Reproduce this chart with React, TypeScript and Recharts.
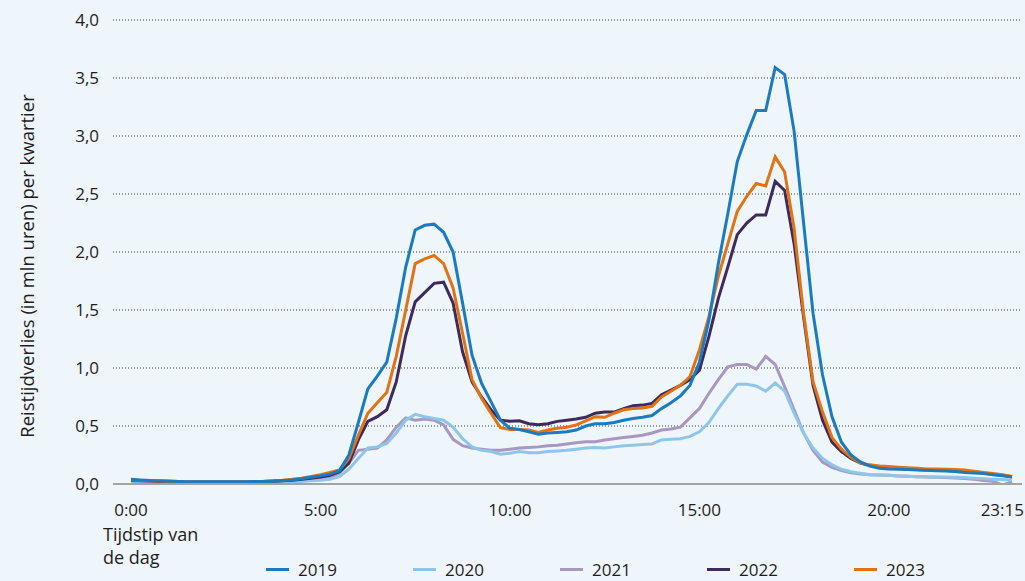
import React from "react";
import { LineChart, Line, XAxis, YAxis, CartesianGrid } from "recharts";

// kwartieren 0:00 .. 23:15
const TIMES: string[] = Array.from({ length: 94 }, (_, i) =>
  `${Math.floor(i / 4)}:${String((i % 4) * 15).padStart(2, "0")}`
);
const X_TICKS = ["0:00", "5:00", "10:00", "15:00", "20:00", "23:15"];
const Y_TICKS = [0, 0.5, 1, 1.5, 2, 2.5, 3, 3.5, 4];

const Y2019 = [
  0.04, 0.035, 0.03, 0.027, 0.025, 0.022, 0.02, 0.02, 0.02, 0.02,
  0.02, 0.02, 0.02, 0.021, 0.022, 0.025, 0.03, 0.035, 0.045, 0.058,
  0.07, 0.085, 0.115, 0.25, 0.53, 0.82, 0.93, 1.05, 1.43, 1.87,
  2.19, 2.23, 2.24, 2.17, 2.0, 1.56, 1.11, 0.87, 0.71, 0.55,
  0.48, 0.47, 0.45, 0.43, 0.44, 0.445, 0.45, 0.465, 0.5, 0.52,
  0.52, 0.53, 0.55, 0.565, 0.575, 0.59, 0.65, 0.7, 0.76, 0.85,
  1.05, 1.41, 1.9, 2.33, 2.78, 3.01, 3.22, 3.22, 3.59, 3.53,
  3.04, 2.25, 1.47, 0.94, 0.58, 0.36, 0.25, 0.19, 0.155, 0.135,
  0.13, 0.128, 0.125, 0.12, 0.118, 0.115, 0.112, 0.108, 0.1, 0.095,
  0.09, 0.08, 0.072, 0.06,
];
const Y2020 = [
  0.02, 0.018, 0.016, 0.015, 0.014, 0.013, 0.012, 0.012, 0.012, 0.012,
  0.012, 0.012, 0.012, 0.013, 0.014, 0.015, 0.018, 0.02, 0.022, 0.027,
  0.033, 0.04, 0.063, 0.127, 0.22, 0.31, 0.32, 0.35, 0.44, 0.55,
  0.6, 0.58, 0.565, 0.55, 0.49, 0.39, 0.32, 0.29, 0.28, 0.256,
  0.265, 0.28, 0.27, 0.27, 0.28, 0.285, 0.29, 0.3, 0.31, 0.315,
  0.31, 0.32, 0.33, 0.335, 0.34, 0.345, 0.38, 0.385, 0.39, 0.41,
  0.45, 0.53, 0.65, 0.76, 0.86, 0.86, 0.845, 0.8, 0.87, 0.8,
  0.61, 0.44, 0.31, 0.22, 0.165, 0.127, 0.106, 0.092, 0.08, 0.078,
  0.075, 0.07, 0.066, 0.063, 0.062, 0.06, 0.06, 0.058, 0.055, 0.05,
  0.046, 0.042, 0.038, 0.035,
];
const Y2021 = [
  0.025, 0.022, 0.02, 0.018, 0.016, 0.015, 0.014, 0.014, 0.014, 0.014,
  0.014, 0.014, 0.014, 0.015, 0.016, 0.018, 0.02, 0.025, 0.03, 0.035,
  0.045, 0.055, 0.092, 0.18, 0.29, 0.3, 0.31, 0.38, 0.49, 0.57,
  0.55, 0.56, 0.55, 0.51, 0.385, 0.33, 0.31, 0.3, 0.29, 0.29,
  0.3, 0.31, 0.315, 0.32, 0.33, 0.335, 0.345, 0.355, 0.365, 0.365,
  0.38, 0.39, 0.4, 0.41, 0.42, 0.44, 0.465, 0.475, 0.49, 0.57,
  0.65, 0.78, 0.9, 1.01, 1.03, 1.03, 0.99, 1.1, 1.03, 0.84,
  0.64, 0.44, 0.29, 0.19, 0.144, 0.115, 0.097, 0.086, 0.08, 0.078,
  0.075, 0.07, 0.066, 0.063, 0.06, 0.058, 0.055, 0.052, 0.048, 0.04,
  0.03, 0.023, -0.01, 0.02,
];
const Y2022 = [
  0.03, 0.027, 0.025, 0.022, 0.02, 0.02, 0.018, 0.018, 0.018, 0.018,
  0.018, 0.018, 0.018, 0.02, 0.02, 0.023, 0.027, 0.033, 0.04, 0.05,
  0.06, 0.075, 0.106, 0.18, 0.38, 0.54, 0.58, 0.64, 0.88, 1.28,
  1.57, 1.65, 1.73, 1.74, 1.56, 1.14, 0.88, 0.75, 0.64, 0.55,
  0.54, 0.545, 0.52, 0.51, 0.52, 0.54, 0.55, 0.56, 0.575, 0.61,
  0.62, 0.62, 0.65, 0.675, 0.68, 0.695, 0.77, 0.81, 0.85, 0.9,
  0.98, 1.27, 1.6, 1.87, 2.15, 2.25, 2.32, 2.32, 2.61, 2.53,
  2.07, 1.44, 0.85, 0.55, 0.36, 0.28, 0.22, 0.18, 0.16, 0.145,
  0.14, 0.135, 0.13, 0.125, 0.12, 0.12, 0.117, 0.115, 0.11, 0.105,
  0.095, 0.085, 0.075, 0.062,
];
const Y2023 = [
  0.035, 0.03, 0.028, 0.025, 0.023, 0.021, 0.02, 0.02, 0.02, 0.02,
  0.02, 0.02, 0.02, 0.021, 0.023, 0.027, 0.032, 0.04, 0.05, 0.065,
  0.08, 0.1, 0.12, 0.22, 0.42, 0.61, 0.7, 0.79, 1.1, 1.5,
  1.9, 1.94, 1.97, 1.9, 1.69, 1.3, 0.9, 0.74, 0.61, 0.485,
  0.47, 0.47, 0.465, 0.445, 0.465, 0.48, 0.49, 0.51, 0.545, 0.58,
  0.575, 0.61, 0.64, 0.65, 0.655, 0.67, 0.75, 0.8, 0.85, 0.925,
  1.155, 1.44, 1.79, 2.07, 2.35, 2.48, 2.59, 2.57, 2.82, 2.69,
  2.2, 1.47, 0.88, 0.62, 0.4, 0.3, 0.23, 0.18, 0.165, 0.155,
  0.15, 0.145, 0.14, 0.135, 0.13, 0.13, 0.127, 0.125, 0.12, 0.11,
  0.1, 0.09, 0.08, 0.065,
];

const SERIES = [
  { key: "2019", values: Y2019, color: "#1b7bc0" },
  { key: "2020", values: Y2020, color: "#8ec6ea" },
  { key: "2021", values: Y2021, color: "#a897be" },
  { key: "2022", values: Y2022, color: "#3e2a5d" },
  { key: "2023", values: Y2023, color: "#e27312" },
];
// tekenvolgorde: 2019 bovenop
const DRAW_ORDER = ["2021", "2020", "2022", "2023", "2019"];

const data = TIMES.map((t, i) => {
  const row: Record<string, string | number> = { t };
  SERIES.forEach((s) => (row[s.key] = s.values[i]));
  return row;
});

const FONT = "'Open Sans', sans-serif";
const TEXT = "#1e1e1e";
const LAST = X_TICKS[X_TICKS.length - 1];

const fmt = (v: number) => v.toFixed(1).replace(".", ",");

// laatste label rechts uitlijnen zodat het binnen beeld blijft
const TimeTick = ({ x, y, payload }: { x?: number; y?: number; payload?: { value: string } }) => {
  const isLast = payload?.value === LAST;
  return (
    <text
      x={isLast ? (x ?? 0) + 12 : x}
      y={y}
      dy="0.71em"
      textAnchor={isLast ? "end" : "middle"}
      fill={TEXT}
      fontSize={17}
      fontFamily={FONT}
    >
      {payload?.value}
    </text>
  );
};

const XTitle = ({ viewBox }: { viewBox?: { x: number; y: number } }) => {
  if (!viewBox) return null;
  return (
    <text x={viewBox.x - 10} y={viewBox.y + 57} fill={TEXT} fontSize={18} fontFamily={FONT}>
      <tspan x={viewBox.x - 10}>Tijdstip van</tspan>
      <tspan x={viewBox.x - 10} dy={23}>de dag</tspan>
    </text>
  );
};

const YTitle = ({ viewBox }: { viewBox?: { x: number; y: number; height: number } }) => {
  if (!viewBox) return null;
  const cx = 26;
  const cy = viewBox.y + viewBox.height / 2 + 14;
  return (
    <text
      x={cx}
      y={cy}
      transform={`rotate(-90, ${cx}, ${cy})`}
      textAnchor="middle"
      dominantBaseline="central"
      fill={TEXT}
      fontSize={18.5}
      fontFamily={FONT}
    >
      Reistijdverlies (in mln uren) per kwartier
    </text>
  );
};

export default function App() {
  return (
    <div style={{ position: "absolute", left: 0, top: 0, width: 1025, height: 581, background: "#eef5fb" }}>
      <LineChart width={1025} height={581} data={data} margin={{ top: 20, right: 3, bottom: 0, left: 0 }}>
        <CartesianGrid vertical={false} stroke="#3a3a3a" strokeDasharray="1 2" />
        <XAxis
          dataKey="t"
          ticks={X_TICKS}
          interval={0}
          height={97}
          padding={{ left: 18, right: 10 }}
          tickLine={false}
          tickSize={0}
          tickMargin={20}
          axisLine={{ stroke: "#a3a3a3", strokeWidth: 2 }}
          tick={<TimeTick />}
          label={<XTitle />}
        />
        <YAxis
          width={113}
          domain={[0, 4]}
          ticks={Y_TICKS}
          allowDataOverflow
          tickLine={false}
          axisLine={false}
          tickSize={0}
          tickMargin={14}
          tickFormatter={fmt}
          tick={{ fill: TEXT, fontSize: 17, fontFamily: FONT }}
          label={<YTitle />}
        />
        {DRAW_ORDER.map((k) => {
          const s = SERIES.find((x) => x.key === k)!;
          return (
            <Line
              key={k}
              type="linear"
              dataKey={k}
              stroke={s.color}
              strokeWidth={3}
              dot={false}
              activeDot={false}
              isAnimationActive={false}
            />
          );
        })}
      </LineChart>
      <div
        style={{
          position: "absolute",
          left: 266,
          top: 558,
          display: "flex",
          fontFamily: FONT,
          fontSize: 17,
          color: TEXT,
        }}
      >
        {SERIES.map((s) => (
          <div key={s.key} style={{ width: 147, display: "flex", alignItems: "center" }}>
            <span style={{ display: "inline-block", width: 23, height: 3, background: s.color, marginRight: 9 }} />
            <span>{s.key}</span>
          </div>
        ))}
      </div>
    </div>
  );
}
